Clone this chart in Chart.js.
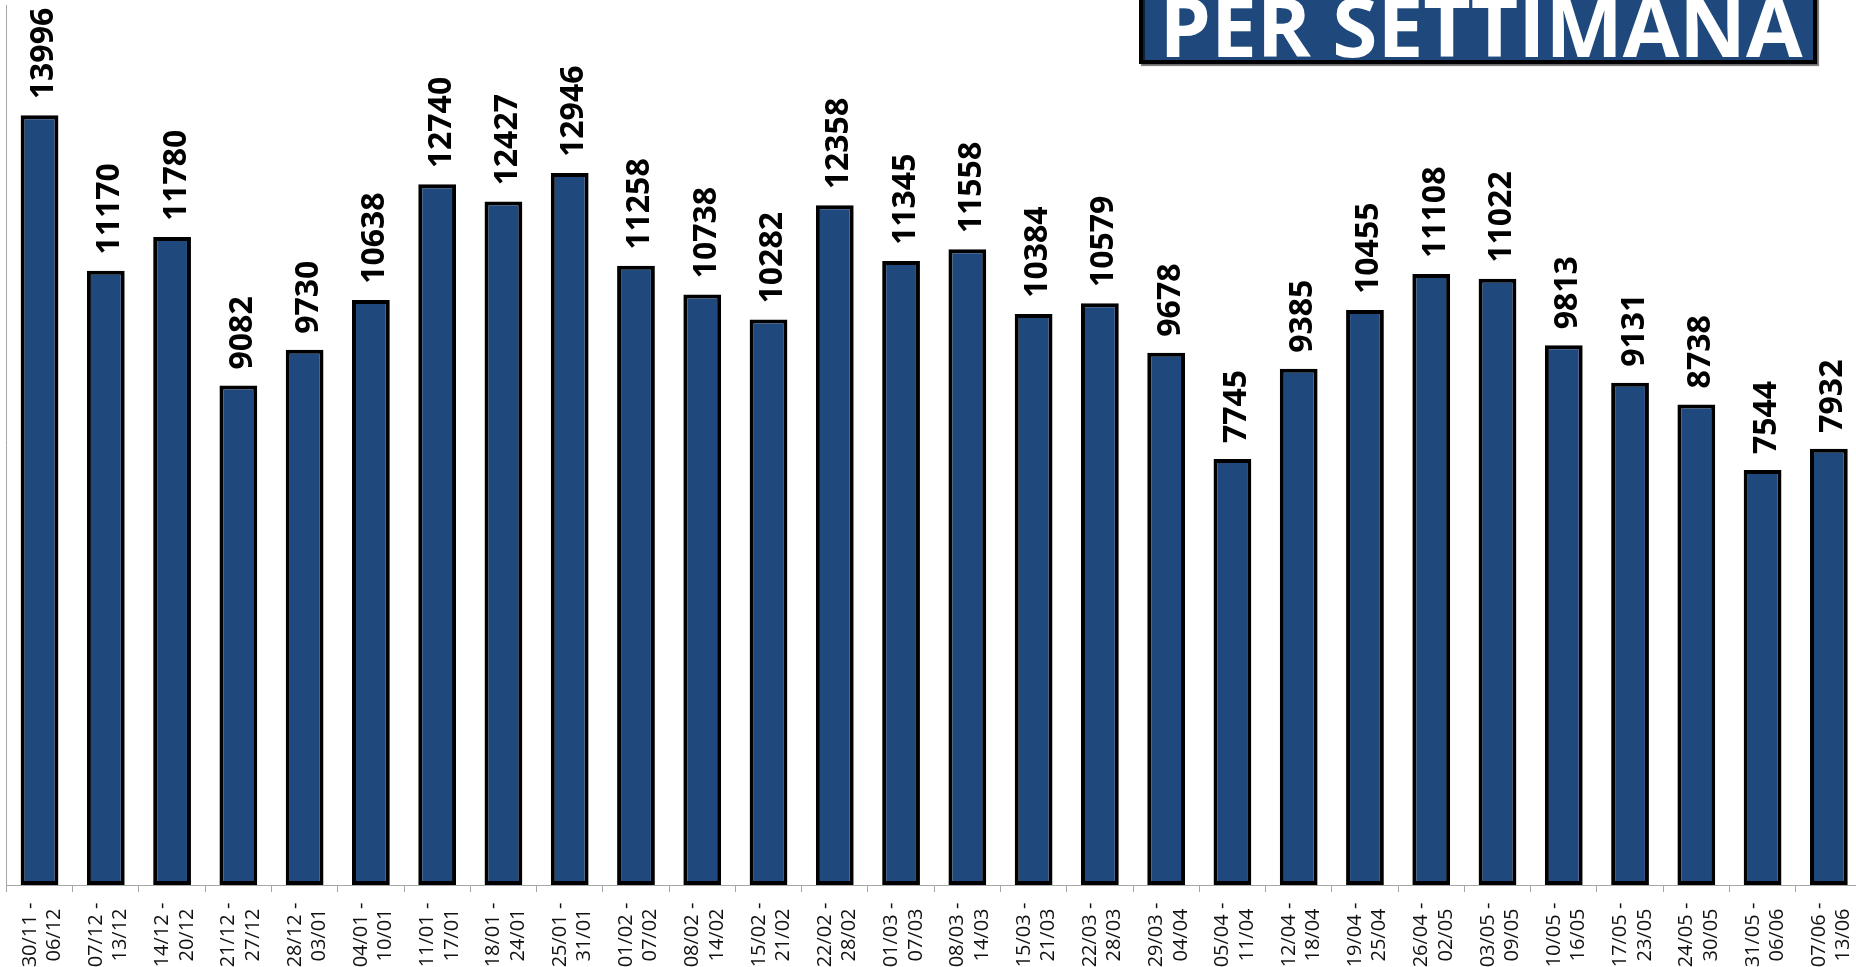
<!DOCTYPE html>
<html lang="it">
<head>
  <meta charset="UTF-8">
  <title>Per settimana</title>
  <script src="https://cdn.jsdelivr.net/npm/chart.js"></script>
  <style>
    html, body {
      margin: 0;
      padding: 0;
      overflow: hidden;
      background: #fff;
    }
    #box {
      position: absolute;
      left: 0;
      top: 0;
      width: 1862px;
      height: 990px;
    }
  </style>
</head>
<body>
  <div id="box"><canvas id="grafico"></canvas></div>

  <script>
    // settimane (inizio - fine)
    const inizio = ['30/11', '07/12', '14/12', '21/12', '28/12', '04/01', '11/01', '18/01', '25/01', '01/02',
      '08/02', '15/02', '22/02', '01/03', '08/03', '15/03', '22/03', '29/03', '05/04', '12/04',
      '19/04', '26/04', '03/05', '10/05', '17/05', '24/05', '31/05', '07/06'];
    const fine = ['06/12', '13/12', '20/12', '27/12', '03/01', '10/01', '17/01', '24/01', '31/01', '07/02',
      '14/02', '21/02', '28/02', '07/03', '14/03', '21/03', '28/03', '04/04', '11/04', '18/04',
      '25/04', '02/05', '09/05', '16/05', '23/05', '30/05', '06/06', '13/06'];
    const valori = [13996, 11170, 11780, 9082, 9730, 10638, 12740, 12427, 12946, 11258,
      10738, 10282, 12358, 11345, 11558, 10384, 10579, 9678, 7745, 9385,
      10455, 11108, 11022, 9813, 9131, 8738, 7544, 7932];
    const titolo = 'PER SETTIMANA';

    const etichette = inizio.map((d, i) => [d + ' -', fine[i]]);

    // titolo nel riquadro blu
    const pluginTitolo = {
      id: 'titolo',
      afterDraw(chart) {
        const ctx = chart.ctx;
        ctx.save();
        ctx.shadowColor = 'rgba(0,0,0,0.55)';
        ctx.shadowOffsetX = 2;
        ctx.shadowOffsetY = 2;
        ctx.shadowBlur = 1;
        ctx.fillStyle = '#1f497d';
        ctx.fillRect(1141, -10, 674, 72);
        ctx.lineWidth = 4;
        ctx.strokeStyle = '#000';
        ctx.strokeRect(1141, -10, 674, 72);
        ctx.restore();

        ctx.save();
        ctx.fillStyle = '#fff';
        ctx.font = 'bold 82px "Open Sans"';
        ctx.textAlign = 'center';
        ctx.textBaseline = 'alphabetic';
        ctx.fillText(titolo, 1481, 57);
        ctx.restore();
      }
    };

    // valori sopra le barre e date sotto l'asse, ruotati
    const pluginEtichette = {
      id: 'etichette',
      afterDatasetsDraw(chart) {
        const ctx = chart.ctx;
        const meta = chart.getDatasetMeta(0);
        ctx.save();
        ctx.fillStyle = '#000';
        ctx.font = 'bold 32px "Open Sans"';
        ctx.textAlign = 'left';
        ctx.textBaseline = 'alphabetic';
        meta.data.forEach((bar, i) => {
          ctx.save();
          ctx.translate(bar.x + 2, bar.y - 16);
          ctx.rotate(-Math.PI / 2);
          ctx.fillText(String(valori[i]), 0, 11.5);
          ctx.restore();
        });
        ctx.restore();

        const xs = chart.scales.x;
        const centro = xs.top + 50;
        ctx.save();
        ctx.fillStyle = '#111';
        ctx.font = '20px "Open Sans"';
        ctx.textAlign = 'center';
        ctx.textBaseline = 'alphabetic';
        etichette.forEach((righe, i) => {
          const x = xs.getPixelForValue(i);
          ctx.save();
          ctx.translate(x, centro);
          ctx.rotate(-Math.PI / 2);
          ctx.fillText(righe[0], 0, -4);
          ctx.fillText(righe[1], 0, 20.5);
          ctx.restore();
        });
        ctx.restore();
      }
    };

    new Chart(document.getElementById('grafico'), {
      type: 'bar',
      data: {
        labels: etichette,
        datasets: [{
          data: valori,
          backgroundColor: '#1f497d',
          borderColor: '#000',
          borderWidth: 4,
          borderSkipped: false,
          barPercentage: 0.57,
          categoryPercentage: 1
        }]
      },
      options: {
        responsive: true,
        maintainAspectRatio: false,
        animation: false,
        layout: { padding: { top: 5, right: 0, bottom: 0, left: 0 } },
        plugins: {
          legend: { display: false },
          tooltip: { enabled: false },
          title: { display: false }
        },
        scales: {
          x: {
            offset: true,
            grid: {
              offset: true,
              drawOnChartArea: false,
              drawTicks: true,
              tickLength: 7,
              color: '#a6a6a6'
            },
            border: { display: true, color: '#a6a6a6', width: 1 },
            ticks: { display: false },
            afterFit(s) { s.height = 105; }
          },
          y: {
            min: 0,
            max: 16000,
            grid: { display: false, drawTicks: false },
            border: { display: true, color: '#a6a6a6', width: 1 },
            ticks: { display: false },
            afterFit(s) { s.width = 6.4; }
          }
        }
      },
      plugins: [pluginTitolo, pluginEtichette]
    });
  </script>
</body>
</html>
